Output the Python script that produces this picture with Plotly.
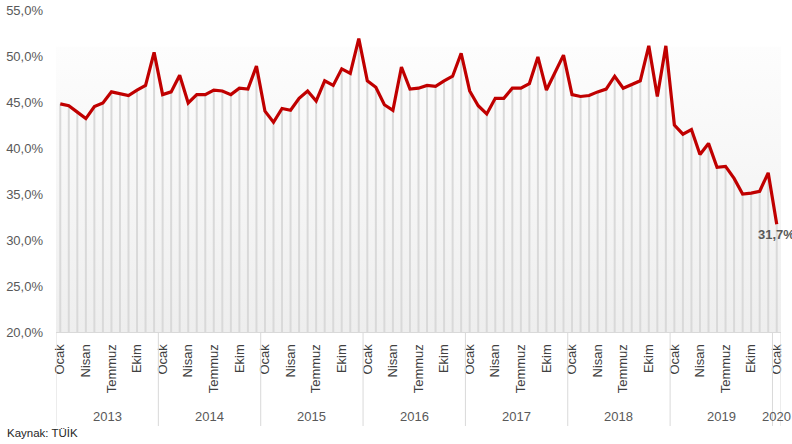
import plotly.graph_objects as go

# ---- data ----
years = ["2013", "2014", "2015", "2016", "2017", "2018", "2019", "2020"]
month_tick_names = ["Ocak", "Nisan", "Temmuz", "Ekim"]

v2013 = [44.8, 44.6, 43.9, 43.2, 44.5, 44.9, 46.1, 45.9, 45.7, 46.3, 46.8, 50.4]
v2014 = [45.8, 46.1, 47.9, 44.9, 45.8, 45.8, 46.3, 46.2, 45.8, 46.5, 46.4, 48.9]
v2015 = [44.0, 42.8, 44.3, 44.1, 45.4, 46.2, 45.1, 47.3, 46.8, 48.6, 48.1, 51.9]
v2016 = [47.3, 46.6, 44.7, 44.1, 48.8, 46.4, 46.5, 46.8, 46.7, 47.3, 47.8, 50.3]
v2017 = [46.2, 44.6, 43.7, 45.4, 45.4, 46.5, 46.5, 47.0, 49.9, 46.3, 48.2, 50.1]
v2018 = [45.8, 45.6, 45.7, 46.1, 46.4, 47.8, 46.5, 46.9, 47.3, 51.1, 45.6, 51.1]
v2019 = [42.5, 41.5, 42.0, 39.3, 40.5, 37.9, 38.0, 36.7, 35.0, 35.1, 35.3, 37.3]
v2020 = [31.7]

values = v2013 + v2014 + v2015 + v2016 + v2017 + v2018 + v2019 + v2020
idx = list(range(len(values)))

y_ticks = [20, 25, 30, 35, 40, 45, 50, 55]
y_tick_text = [f"{t:.1f}".replace(".", ",") + "%" for t in y_ticks]

# ---- style constants ----
RED = "#c00000"
DROP = "#d9d9d9"
BG_TOP = 51.0
Y_MIN, Y_MAX = 20, 55

fig = go.Figure()

# background gradient panel
x_lo, x_hi = -0.5, len(values) - 0.5
fig.add_trace(go.Scatter(
    x=[x_lo, x_hi, x_hi, x_lo, x_lo],
    y=[BG_TOP, BG_TOP, Y_MIN, Y_MIN, BG_TOP],
    mode="none", fill="toself",
    fillgradient=dict(type="vertical",
                      colorscale=[[0, "#eeeeee"], [1, "#fdfdfd"]]),
    hoverinfo="skip", showlegend=False,
))

# drop lines from the axis floor up to each value
fig.add_trace(go.Scatter(
    x=idx, y=values, mode="markers",
    marker=dict(size=0.1, opacity=0),
    error_y=dict(type="data", symmetric=False,
                 array=[0] * len(values),
                 arrayminus=[v - Y_MIN for v in values],
                 width=0, thickness=2, color=DROP),
    hoverinfo="skip", showlegend=False,
))

# main line
fig.add_trace(go.Scatter(
    x=idx, y=values, mode="lines",
    line=dict(color=RED, width=3.2),
    showlegend=False,
))

# month tick labels every 3 months
tickvals = [i for i in idx if i % 3 == 0]
ticktext = [month_tick_names[(i % 12) // 3] for i in tickvals]

fig.update_xaxes(
    range=[x_lo, x_hi], automargin=False,
    tickmode="array", tickvals=tickvals, ticktext=ticktext,
    tickangle=-90, ticks="", ticklabelstandoff=6,
    tickfont=dict(family="Liberation Sans", size=13, color="#404040"),
    showgrid=False, zeroline=False,
    showline=True, linecolor="#d9d9d9", linewidth=1,
)
fig.update_yaxes(
    range=[Y_MIN, Y_MAX], automargin=False,
    tickmode="array", tickvals=y_ticks, ticktext=y_tick_text,
    tickfont=dict(family="Liberation Sans", size=13, color="#595959"),
    showgrid=False, zeroline=False, showline=False, ticks="",
    ticklabelstandoff=12,
)

# year group labels and separators
shapes = []
annotations = []
sep_bottom = -0.292
for k, yr in enumerate(years):
    start = 12 * k
    end = min(12 * (k + 1), len(values))
    shapes.append(dict(type="line", xref="x", yref="paper",
                       x0=start - 0.5, x1=start - 0.5, y0=0, y1=sep_bottom,
                       line=dict(color="#d9d9d9", width=1)))
    annotations.append(dict(
        x=(start + end - 1) / 2, y=-0.261, xref="x", yref="paper",
        text=yr, showarrow=False, xanchor="center", yanchor="middle",
        font=dict(family="Liberation Sans", size=13, color="#595959")))
shapes.append(dict(type="line", xref="x", yref="paper",
                   x0=x_hi, x1=x_hi, y0=0, y1=sep_bottom,
                   line=dict(color="#d9d9d9", width=1)))

# last value label
last_txt = f"{values[-1]:.1f}".replace(".", ",") + "%"
annotations.append(dict(
    x=idx[-1], y=values[-1], xref="x", yref="y",
    text=f"<b>{last_txt}</b>", showarrow=False,
    xanchor="center", yanchor="top", yshift=-1,
    font=dict(family="Liberation Sans", size=13, color="#595959")))

# source
annotations.append(dict(
    x=-0.0703, y=-0.3137, xref="paper", yref="paper",
    text="Kaynak: TÜİK", showarrow=False, xanchor="left", yanchor="middle",
    font=dict(family="Liberation Sans", size=11.5, color="#262626")))

fig.update_layout(
    width=792, height=444,
    margin=dict(l=56, r=11, t=10, b=112),
    paper_bgcolor="white", plot_bgcolor="white",
    shapes=shapes, annotations=annotations,
    showlegend=False,
)

fig.write_html(
    "out.html",
    config={"displayModeBar": False},
    post_script="document.body.style.margin='0';document.body.style.padding='0';",
)
